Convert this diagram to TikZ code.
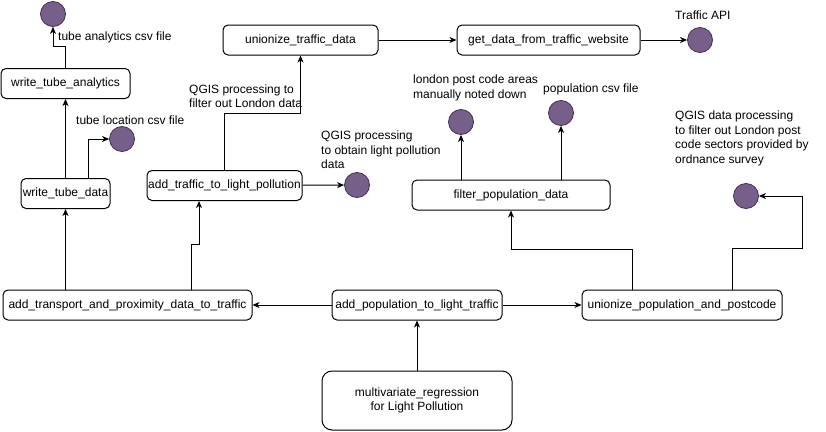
\documentclass[tikz,border=0pt]{standalone}
\usepackage{fontspec}
\setmainfont{Liberation Sans}
\usepackage{tikz}
\usetikzlibrary{%
  arrows.meta,%
  calc,%
  positioning}

\definecolor{storefill}{HTML}{76608A}
\definecolor{storeline}{HTML}{432D57}

\tikzset{
  task/.style={rectangle, draw, rounded corners=5pt, line width=1pt,
    minimum height=30pt, inner xsep=1pt, inner ysep=2pt,
    font=\fontsize{12}{14.5}\selectfont},
  store/.style={circle, draw=storeline, fill=storefill, line width=0.8pt,
    minimum size=25pt, inner sep=0pt},
  note/.style={anchor=west, inner sep=0pt, align=left,
    font=\fontsize{12}{14.5}\selectfont},
  flow/.style={line width=1pt, -{Stealth[length=7pt,width=6pt,inset=2pt]}}
}

\begin{document}
\begin{tikzpicture}[x=1pt,y=-1pt]
\useasboundingbox (0,0) rectangle (826,431);
% description et nommage des noeuds
\node (tubeAn) at (65.5,83.5) [task, minimum width=129pt] {write\_tube\_analytics};
\node (tubeData) at (65.5,193.5) [task, minimum width=89pt] {write\_tube\_data};
\node (uniTraffic) at (300.5,40) [task, minimum width=155pt] {unionize\_traffic\_data};
\node (getData) at (548.5,40) [task, minimum width=183pt] {get\_data\_from\_traffic\_website};
\node (addTraffic) at (224.5,185.5) [task, minimum width=155pt] {add\_traffic\_to\_light\_pollution};
\node (filterPop) at (511,195) [task, minimum width=198pt] {filter\_population\_data};
\node (addTransport) at (127.5,305) [task, minimum width=249pt] {add\_transport\_and\_proximity\_data\_to\_traffic};
\node (addPop) at (417,305) [task, minimum width=170pt] {add\_population\_to\_light\_traffic};
\node (uniPop) at (682,305) [task, minimum width=200pt] {unionize\_population\_and\_postcode};
\node (multi) at (417,400.5) [task, rounded corners=10pt, minimum width=190pt, minimum height=59pt, align=center] {multivariate\_regression\\for Light Pollution};

% les sources de donnees
\node (tubeAnCsv) at (53,14) [store] {};
\node (tubeLocCsv) at (122,139) [store] {};
\node (lightData) at (357,185) [store] {};
\node (trafficApi) at (700,40) [store] {};
\node (postAreas) at (461,122) [store] {};
\node (popCsv) at (561,113) [store] {};
\node (postSectors) at (746,196) [store] {};

% les textes
\node (tTubeAn) at (58,37) [note] {tube analytics csv file};
\node (tTubeLoc) at (76,120) [note] {tube location csv file};
\node (tQgisTraffic) at (189,96) [note] {QGIS processing to\\filter out London data};
\node (tQgisLight) at (321,150) [note] {QGIS processing\\to obtain light pollution\\data};
\node (tApi) at (675,15) [note] {Traffic API};
\node (tAreas) at (413,88) [note] {london post code areas\\manually noted down};
\node (tPop) at (543,89) [note] {population csv file};
\node (tSectors) at (675,138.5) [note] {QGIS data processing\\to filter out London post\\code sectors provided by\\ordnance survey};

% les fleches
\draw[flow] (tubeAn.north) -- ++(0,-22) -| (tubeAnCsv.south);
\draw[flow] (tubeData) -- (tubeAn);
\draw[flow] ([xshift=22.5pt]tubeData.north) |- (tubeLocCsv);
\draw[flow] (addTraffic.north) -- ++(0,-57) -| (uniTraffic.south);
\draw[flow] (addTraffic) -- (lightData);
\draw[flow] (uniTraffic) -- (getData);
\draw[flow] (getData) -- (trafficApi);
\draw[flow] (filterPop.north -| postAreas) -- (postAreas);
\draw[flow] (filterPop.north -| popCsv) -- (popCsv);
\draw[flow] (addTransport.north -| tubeData) -- (tubeData);
\draw[flow] ([xshift=63.5pt]addTransport.north) -- ++(0,-45) -| ([xshift=-25.5pt]addTraffic.south);
\draw[flow] (addPop) -- (addTransport);
\draw[flow] (addPop) -- (uniPop);
\draw[flow] (multi) -- (addPop);
\draw[flow] ([xshift=-50pt]uniPop.north) -- ++(0,-40) -| (filterPop.south);
\draw[flow] ([xshift=50pt]uniPop.north) -- ++(0,-41) -- ++(70,0) |- (postSectors);
\end{tikzpicture}
\end{document}
